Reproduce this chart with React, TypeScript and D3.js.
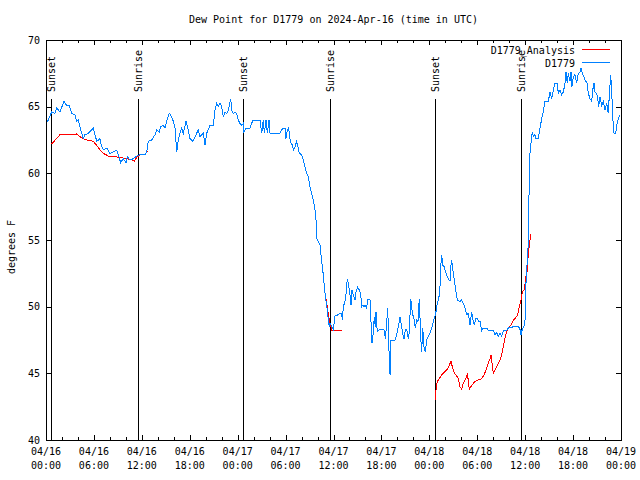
import React from "react";
import * as d3 from "d3";

const START = Date.UTC(2024, 3, 16, 0, 0);
const END = Date.UTC(2024, 3, 19, 0, 0);

const titleText = "Dew Point for D1779 on 2024-Apr-16 (time in UTC)";
const yLabelText = "degrees F";
const yTicks = [40, 45, 50, 55, 60, 65, 70];
const seriesNames = ["D1779_Analysis", "D1779"];
const seriesColors = ["#ff0000", "#0080ff"];

const sunHours = [0.62, 11.56, 24.73, 35.56, 48.77, 59.54];
const sunLabels = ["Sunset", "Sunrise", "Sunset", "Sunrise", "Sunset", "Sunrise"];

// D1779 observations: hours since 2024-04-16 00:00 UTC and dew point (F)
const obsHours = [
  0.13, 0.29, 0.71, 1.13, 1.34, 1.75, 2.25, 2.59, 2.92, 3.22, 3.63, 3.84, 4.04, 4.26, 4.47, 4.67, 4.88, 5.3, 5.92,
  6.14, 6.35, 6.76, 6.97, 7.18, 7.6, 8.01, 8.43, 8.85, 9.05, 9.35, 9.68, 10.02, 10.18, 10.52, 10.93, 11.36, 11.77,
  12.4, 12.61, 12.81, 13.24, 13.65, 13.86, 14.19, 14.36, 14.69, 14.9, 15.11, 15.44, 15.74, 15.94, 16.15, 16.37,
  16.57, 16.78, 16.99, 17.19, 17.53, 17.82, 18.03, 18.37, 18.66, 19.07, 19.28, 19.7, 19.91, 20.12, 20.54, 20.95,
  21.16, 21.37, 21.58, 21.79, 22.0, 22.2, 22.41, 22.63, 22.83, 23.13, 23.25, 23.45, 23.67, 23.88, 24.08, 24.29,
  24.51, 24.71, 24.79, 25.04, 25.54, 25.75, 25.96, 26.8, 27.01, 27.21, 27.34, 27.55, 27.71, 27.92, 28.05, 29.3,
  29.51, 29.71, 29.93, 30.05, 30.21, 30.39, 30.55, 30.68, 30.89, 30.97, 31.18, 31.39, 31.59, 31.72, 32.02, 32.22,
  32.43, 32.64, 32.85, 33.06, 33.27, 33.47, 33.68, 33.81, 33.9, 34.1, 34.31, 34.52, 34.72, 34.85, 35.02, 35.15,
  35.27, 35.4, 35.47, 35.56, 35.77, 35.98, 36.19, 36.6, 36.81, 37.03, 37.1, 37.23, 37.44, 37.57, 37.73, 37.85,
  38.07, 38.19, 38.32, 38.48, 38.69, 38.82, 39.03, 39.23, 39.41, 39.53, 39.66, 39.82, 39.98, 40.16, 40.28, 40.57,
  40.66, 40.73, 40.82, 40.98, 41.11, 41.23, 41.32, 41.48, 41.74, 42.32, 42.49, 42.66, 42.79, 42.91, 42.99, 43.08,
  43.2, 43.7, 43.91, 44.11, 44.33, 44.54, 44.66, 44.83, 44.99, 45.17, 45.37, 45.49, 45.67, 45.79, 45.92, 46.08,
  46.24, 46.42, 46.58, 46.74, 46.92, 47.04, 47.17, 47.33, 47.5, 47.67, 47.87, 48.08, 48.3, 48.5, 48.8, 49.0, 49.21,
  49.34, 49.42, 49.55, 49.67, 49.84, 50.09, 50.38, 50.59, 50.71, 50.8, 50.92, 51.13, 51.34, 51.5, 51.84, 52.05,
  52.25, 52.47, 52.68, 52.88, 53.09, 53.3, 53.5, 53.63, 53.81, 54.01, 54.18, 54.35, 54.56, 54.76, 55.18, 55.38,
  56.01, 56.22, 56.43, 56.64, 56.85, 57.06, 57.26, 57.68, 57.88, 58.31, 58.73, 59.14, 59.35, 59.48, 59.64, 59.85,
  59.98, 60.1, 60.27, 60.39, 60.45, 60.52, 60.61, 60.73, 60.89, 61.02, 61.23, 61.36, 61.64, 61.86, 62.07, 62.27,
  62.48, 62.9, 63.11, 63.32, 63.45, 63.61, 63.74, 64.02, 64.15, 64.36, 64.57, 64.78, 64.99, 65.11, 65.28, 65.4,
  65.61, 65.74, 65.86, 66.03, 66.24, 66.45, 66.65, 66.87, 66.99, 67.2, 67.37, 67.53, 67.71, 67.91, 68.12, 68.33,
  68.46, 68.62, 68.74, 68.96, 69.08, 69.21, 69.37, 69.58, 69.78, 69.99, 70.21, 70.41, 70.54, 70.71, 70.86, 70.97,
  71.13, 71.34, 71.47, 71.68, 71.89,
];
const obsValues = [
  63.9, 64.0, 64.6, 64.5, 64.9, 64.6, 65.4, 65.1, 65.1, 64.5, 64.4, 63.9, 64.0, 63.5, 63.0, 62.6, 62.9, 63.0, 63.4,
  62.9, 62.4, 62.6, 62.0, 61.75, 61.9, 61.5, 61.6, 61.75, 61.4, 60.8, 61.1, 60.8, 61.25, 61.0, 61.1, 61.3, 61.4,
  61.4, 61.6, 62.4, 62.5, 62.9, 63.25, 63.1, 63.5, 63.6, 63.4, 63.9, 64.5, 64.25, 63.9, 63.4, 61.6,
  62.5, 63.0, 63.4, 63.0, 63.9, 63.25, 62.6, 62.4, 62.75, 63.25, 62.75, 63.0, 62.1, 63.0, 63.6, 63.6,
  64.75, 65.25, 65.0, 65.25, 65.0, 64.25, 64.6, 64.5, 64.75, 65.6, 64.75, 64.5, 64.6, 64.5, 64.0, 63.75,
  63.6, 63.75, 63.1, 63.4, 63.4, 63.75, 64.0, 64.0, 63.0, 64.0, 63.0, 64.0, 63.0, 64.0, 63.0, 63.0,
  63.25, 63.4, 63.4, 62.6, 63.25, 63.4, 62.6, 62.25, 62.1, 61.75, 62.0, 62.4, 61.9, 61.5, 61.4, 61.0,
  60.5, 60.0, 59.75, 59.0, 58.5, 58.0, 57.25, 56.5, 55.1, 54.9, 54.6, 53.4, 52.4, 51.5, 50.6, 50.1,
  49.5, 48.75, 48.5, 48.75, 48.5, 48.25, 49.3, 49.4, 49.5, 49.5, 49.0, 50.0, 50.4, 51.0, 52.1, 51.75,
  50.9, 50.1, 51.25, 50.9, 50.5, 51.1, 51.45, 51.25, 50.9, 50.0, 50.1, 50.0, 50.1, 49.9, 50.55, 50.55,
  49.75, 48.1, 47.25, 48.0, 49.25, 48.5, 49.6, 48.1, 48.3, 48.3, 47.6, 48.75, 49.9, 47.5, 45.9, 44.9,
  47.5, 47.5, 47.9, 48.5, 49.2, 48.5, 48.0, 47.55, 48.25, 48.3, 47.6, 48.1, 50.6, 49.9, 49.4, 49.1,
  48.4, 49.0, 48.9, 50.6, 47.75, 46.6, 48.4, 47.0, 46.6, 47.5, 47.75, 48.0, 48.4, 48.9, 49.5, 50.25, 50.75,
  51.6, 53.0, 53.9, 53.1, 53.0, 52.5, 52.1, 51.9, 53.1, 53.5, 52.9, 52.0, 51.1, 50.5, 50.4, 50.5,
  50.25, 49.9, 49.4, 49.5, 48.6, 49.6, 48.9, 48.6, 49.1, 49.1, 48.9, 48.9, 48.2, 48.4, 48.4, 48.2,
  48.2, 47.9, 48.05, 47.75, 48.0, 47.75, 48.2, 48.2, 48.4, 48.45, 48.55, 48.55, 48.3, 47.9, 48.3, 48.5,
  49.0, 51.75, 53.5, 54.75, 57.0, 60.0, 61.6, 62.25, 63.1, 62.75, 62.9, 62.6, 62.6, 63.4, 64.1, 64.6,
  65.4, 65.4, 66.1, 65.6, 66.0, 66.5, 66.75, 66.75, 66.0, 66.25, 65.9, 66.1, 66.75, 67.6, 66.75, 67.5,
  66.9, 67.6, 66.5, 67.25, 67.4, 66.75, 67.5, 67.6, 67.9, 67.4, 67.25, 66.9, 66.9, 66.0, 65.6, 65.4,
  66.25, 66.75, 66.1, 66.0, 65.6, 65.0, 65.75, 65.1, 65.4, 64.75, 65.25, 64.5, 65.9, 67.4, 65.75, 64.1,
  63.0, 63.0, 63.6, 64.1, 64.4,
];

// D1779_Analysis: three separate stretches (null marks a gap)
const anaHours = [
  0.71, 1.75, 3.84, 4.26, 4.67, 5.1, 5.92, 6.35, 6.76, 7.18, 7.8, 8.43, 9.27, 10.1, 10.73, 11.06, 11.36, 11.77,
  12.4, 12.61, 12.81,
  null,
  35.06, 35.31, 35.47, 35.77, 37.03,
  null,
  48.8, 48.85, 49.0, 49.25, 49.55, 49.84, 50.17, 50.46, 50.71, 50.92, 51.13, 51.43, 51.63, 51.84, 52.05, 52.25,
  52.47, 52.75, 52.88, 53.0, 53.3, 53.72, 54.13, 54.56, 54.85, 55.1, 55.38, 55.6, 55.72, 55.85, 56.01, 56.22,
  56.51, 56.85, 57.06, 57.26, 57.47, 57.68, 57.88, 58.19, 58.52, 58.85, 59.06, 59.26, 59.48, 59.64, 59.89, 60.1,
  60.27, 60.39, 60.61, 60.73,
];
const anaValues = [
  62.2, 62.9, 62.95, 62.75, 62.6, 62.5, 62.4, 62.1, 61.75, 61.5, 61.3, 61.25, 61.2, 61.1, 61.0, 60.9, 61.2, 61.4,
  61.45, 61.6, 61.7,
  null,
  50.6, 49.6, 49.0, 48.25, 48.25,
  null,
  43.0, 44.0, 44.4, 44.6, 44.9, 45.05, 45.25, 45.55, 45.9, 45.4, 45.0, 44.8, 44.6, 44.0, 43.8, 44.25,
  44.5, 44.9, 44.5, 43.8, 44.1, 44.4, 44.5, 44.6, 44.9, 45.25, 45.75, 46.1, 46.4, 45.75, 45.0, 45.25,
  45.6, 46.0, 46.4, 47.0, 47.6, 48.1, 48.4, 48.6, 49.0, 49.2, 49.4, 50.0, 50.5, 51.1, 51.25, 52.25,
  52.75, 54.0, 55.0, 55.45,
];

const W = 640;
const H = 480;
const L = 46;
const R = 621;
const T = 40;
const B = 440;
const FONT = "'DejaVu Sans Mono', 'Liberation Mono', monospace";

const toDate = (h: number) => new Date(START + h * 3600 * 1000);

export default function App() {
  const x = d3.scaleUtc().domain([new Date(START), new Date(END)]).range([L, R]);
  const y = d3.scaleLinear().domain([40, 70]).range([B, T]);

  type P = { t: Date; v: number | null };
  const obs: P[] = obsHours.map((h, i) => ({ t: toDate(h), v: obsValues[i] }));
  const ana: P[] = anaHours.map((h, i) => ({ t: toDate(h == null ? 0 : h), v: h == null ? null : anaValues[i] }));

  const line = d3
    .line<P>()
    .defined((d) => d.v != null)
    .x((d) => x(d.t))
    .y((d) => y(d.v as number));

  const majorTicks = x.ticks(d3.utcHour.every(6) as any);
  const minorTicks = x.ticks(d3.utcHour.every(2) as any);
  const fmtDay = d3.utcFormat("%m/%d");
  const fmtTime = d3.utcFormat("%H:%M");

  const px = (v: number) => Math.round(v) + 0.5;

  return (
    <svg
      width={W}
      height={H}
      style={{ position: "absolute", left: 0, top: 0, background: "#fff" }}
      fontFamily={FONT}
      fontSize={10}
    >
      <rect x={0} y={0} width={W} height={H} fill="#fff" />
      <text x={(L + R) / 2} y={23} textAnchor="middle" fill="#000">
        {titleText}
      </text>
      <text
        transform={`translate(11,247) rotate(-90)`}
        textAnchor="middle"
        dominantBaseline="central"
        fill="#000"
      >
        {yLabelText}
      </text>

      {/* y ticks */}
      {yTicks.map((t) => (
        <g key={"y" + t}>
          <line x1={L} x2={L + 5} y1={px(y(t))} y2={px(y(t))} stroke="#000" shapeRendering="crispEdges" />
          <line x1={R - 5} x2={R} y1={px(y(t))} y2={px(y(t))} stroke="#000" shapeRendering="crispEdges" />
          <text x={40} y={y(t) + 3.5} textAnchor="end" fill="#000">
            {t}
          </text>
        </g>
      ))}

      {/* x ticks */}
      {minorTicks.map((d, i) => (
        <g key={"m" + i}>
          <line x1={px(x(d))} x2={px(x(d))} y1={B} y2={B - 3} stroke="#000" shapeRendering="crispEdges" />
          <line x1={px(x(d))} x2={px(x(d))} y1={T} y2={T + 3} stroke="#000" shapeRendering="crispEdges" />
        </g>
      ))}
      {majorTicks.map((d, i) => (
        <g key={"M" + i}>
          <line x1={px(x(d))} x2={px(x(d))} y1={B} y2={B - 5} stroke="#000" shapeRendering="crispEdges" />
          <line x1={px(x(d))} x2={px(x(d))} y1={T} y2={T + 5} stroke="#000" shapeRendering="crispEdges" />
          <text x={x(d)} y={455} textAnchor="middle" fill="#000">
            {fmtDay(d)}
          </text>
          <text x={x(d)} y={469} textAnchor="middle" fill="#000">
            {fmtTime(d)}
          </text>
        </g>
      ))}

      {/* sunrise / sunset markers */}
      {sunHours.map((h, i) => {
        const xx = px(x(toDate(h)));
        return (
          <g key={"s" + i}>
            <line x1={xx} x2={xx} y1={99} y2={B} stroke="#000" shapeRendering="crispEdges" />
            <text
              transform={`translate(${xx},92) rotate(-90)`}
              textAnchor="start"
              dominantBaseline="central"
              fill="#000"
            >
              {sunLabels[i]}
            </text>
          </g>
        );
      })}

      {/* data */}
      <path d={line(ana) || ""} fill="none" stroke={seriesColors[0]} strokeWidth={1} shapeRendering="crispEdges" />
      <path d={line(obs) || ""} fill="none" stroke={seriesColors[1]} strokeWidth={1} shapeRendering="crispEdges" />

      {/* frame */}
      <rect x={L + 0.5} y={T + 0.5} width={R - L} height={B - T} fill="none" stroke="#000" shapeRendering="crispEdges" />

      {/* legend */}
      {seriesNames.map((n, i) => (
        <g key={"l" + i}>
          <text x={575} y={50 + i * 13 + 3.5} textAnchor="end" fill="#000">
            {n}
          </text>
          <line x1={582} x2={610} y1={49.5 + i * 13} y2={49.5 + i * 13} stroke={seriesColors[i]} shapeRendering="crispEdges" />
        </g>
      ))}
    </svg>
  );
}
